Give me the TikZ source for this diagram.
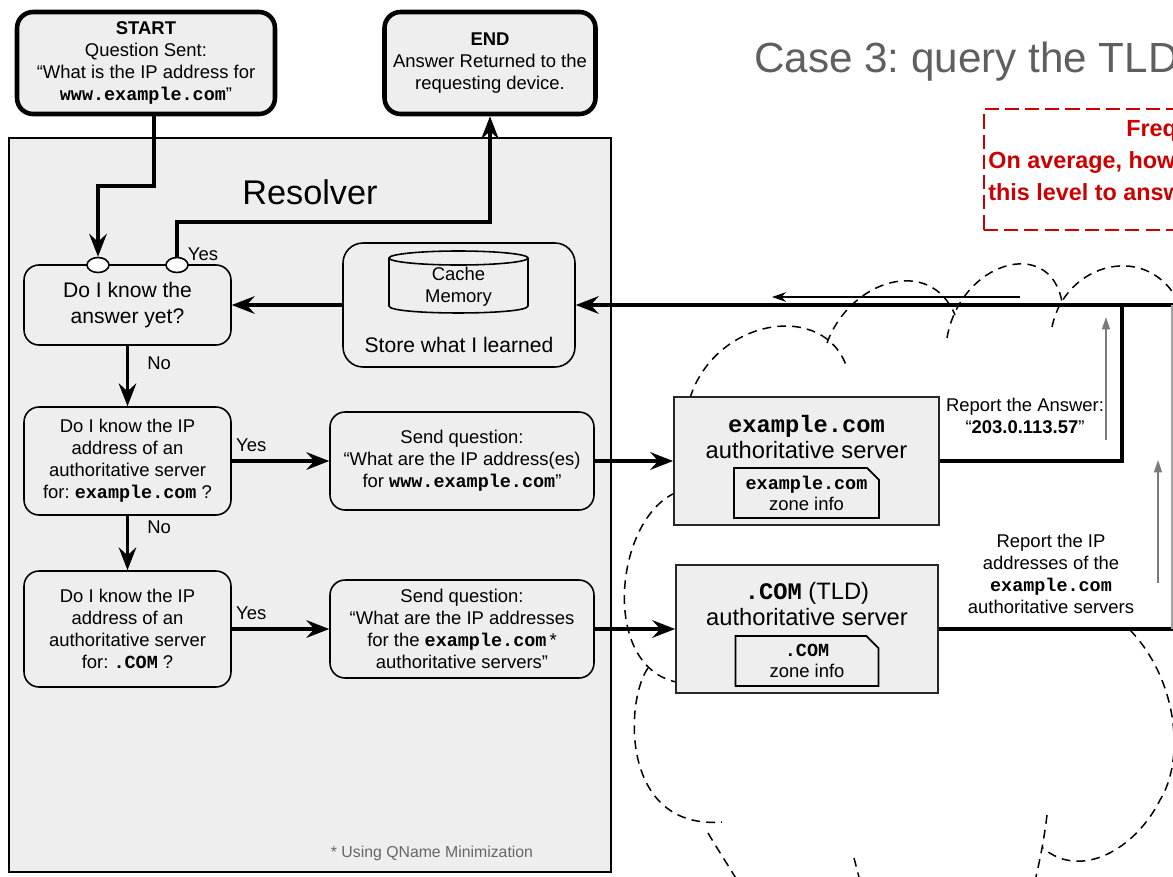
\documentclass[tikz,border=0pt]{standalone}
\usepackage{fontspec}
\setmainfont{Liberation Sans}
\setmonofont{Liberation Mono}
\usepackage{xcolor}
\usepackage{tikz}
\usetikzlibrary{arrows.meta,shapes.geometric,shapes.misc}

\definecolor{panel}{HTML}{EEEEEE}
\definecolor{alertred}{HTML}{CC0000}
\definecolor{titlegray}{HTML}{5F5F5F}
\definecolor{notegray}{HTML}{666666}
\definecolor{hintgray}{HTML}{7A7A7A}
\newcommand{\dom}[1]{\textbf{\texttt{#1}}}
\newcommand{\fs}[2]{\fontsize{#1}{#2}\selectfont}
\frenchspacing

\begin{document}
\begin{tikzpicture}[x=0.02cm,y=-0.02cm,
      every node/.style={font=\fs{10.5}{12.5}},
      term/.style={draw,line width=2.6pt,rounded corners=0.32cm,fill=panel,align=center,minimum height=2.04cm},
      ask/.style={draw,line width=0.9pt,rounded corners=0.3cm,fill=panel,align=center,minimum width=4.14cm},
      query/.style={ask,minimum width=5.28cm,minimum height=1.96cm},
      port/.style={draw,ellipse,fill=white,line width=0.9pt,minimum width=0.44cm,minimum height=0.3cm,inner sep=0pt},
      srv/.style={draw=black!85,line width=1pt,fill=panel,minimum height=2.56cm},
      zone/.style={draw,chamfered rectangle,chamfered rectangle corners=north east,chamfered rectangle xsep=0.12cm,chamfered rectangle ysep=0.12cm,line width=1pt,fill=panel,align=center,minimum width=2.9cm,minimum height=1cm,inner sep=1pt,font=\fs{10.5}{12}},
      flow/.style={line width=2pt,-{Stealth[length=13pt,width=10pt,inset=4.5pt]}},
      wire/.style={line width=2pt},
      hint/.style={hintgray,line width=0.9pt,-{Triangle[length=7pt,width=4.5pt]}},
      puff/.style={dash pattern=on 5pt off 3.5pt,line width=0.85pt},
      alert/.style={anchor=base west,inner sep=0pt,text=alertred,font=\fs{13.3}{16}\bfseries}
]
\useasboundingbox (0,0) rectangle (1173,876);
\clip (0,0) rectangle (1173,876);

\node[draw,line width=1pt,fill=panel,minimum width=12.04cm,minimum height=14.68cm] (resolver) at (310,505) {};
\node[font=\fs{19.5}{22}] (reslabel) at (310,192) {Resolver};

% the cloud
\draw[puff] (690,398) .. controls (715,318) and (825,300) .. (847,368);
\draw[puff] (827,343) .. controls (850,280) and (930,255) .. (955,315);
\draw[puff] (947,338) .. controls (960,262) and (1050,235) .. (1062,302);
\draw[puff] (1052,327) .. controls (1065,262) and (1150,240) .. (1180,305);
\draw[puff] (675,493) .. controls (615,520) and (600,665) .. (676,682);
\draw[puff] (648,668) .. controls (625,700) and (620,830) .. (722,822);
\draw[puff] (708,833) .. controls (718,850) and (728,865) .. (740,885);
\draw[puff] (854,858) -- (861,885);
\draw[puff] (1047,815) .. controls (1044,840) and (1040,860) .. (1034,885);
\draw[puff] (1130,630) .. controls (1178,680) and (1185,760) .. (1160,800) .. controls (1135,850) and (1080,880) .. (1043,848);

\node[term,minimum width=5.16cm] (start) at (146,63) {\textbf{START}\\Question Sent:\\“What is the IP address for\\\dom{www.example.com}”};
\node[term,minimum width=4.22cm] (finish) at (490,63) {\textbf{END}\\Answer Returned to the\\requesting device.};

\node[anchor=base west,inner sep=0pt,text=titlegray,font=\fs{24}{28}] (title) at (754,72) {Case 3: query the TLD};
\node[draw=alertred,line width=1.1pt,dash pattern=on 8pt off 3.5pt,anchor=north west,minimum width=5cm,minimum height=2.42cm] (freqbox) at (983,108) {};
\node[alert] (freq1) at (1126,136) {Freq};
\node[alert] (freq2) at (988,168) {On average, how};
\node[alert] (freq3) at (988,200) {this level to answ};

\node[ask,minimum height=1.6cm,font=\fs{12}{14.5}] (q1) at (127.5,305) {Do I know the\\answer yet?};
\node[ask,minimum height=2.16cm] (q2) at (127.5,461) {Do I know the IP\\address of an\\authoritative server\\for: \dom{example.com} ?};
\node[ask,minimum height=2.32cm] (q3) at (127.5,629) {Do I know the IP\\address of an\\authoritative server\\for: \dom{.COM} ?};
\node[port] (pask) at (98,265) {};
\node[port] (pyes) at (177,265) {};
\node (yestop) at (203,254) {Yes};

\node[ask,rounded corners=0.4cm,minimum width=4.64cm,minimum height=2.48cm] (cache) at (459,305) {};
\draw[line width=0.9pt] (458.5,258) ellipse [x radius=69.5,y radius=7];
\draw[line width=0.9pt] (389,258) -- (389,306) .. controls (389,315.3) and (528,315.3) .. (528,306) -- (528,258);
\node[align=center] (memory) at (458.5,287) {Cache\\Memory};
\node[font=\fs{12}{14.5}] (learned) at (459,345) {Store what I learned};

\node[query] (send1) at (462,461) {Send question:\\“What are the IP address(es)\\for \dom{www.example.com}”};
\node[query] (send2) at (462,629) {Send question:\\“What are the IP addresses\\for the \dom{example.com}\,*\\authoritative servers”};

\node[srv,minimum width=5.3cm] (exsrv) at (806.5,461) {};
\node[align=center,font=\fs{13.5}{15.3}] (exlabel) at (806.5,437) {\dom{example.com}\\authoritative server};
\node[zone] (exzone) at (806.5,493) {\dom{example.com}\\zone info};
\node[srv,minimum width=5.24cm] (tldsrv) at (807,629) {};
\node[align=center,font=\fs{13.5}{15.3}] (tldlabel) at (807,604) {\dom{.COM} (TLD)\\authoritative server};
\node[zone,minimum width=2.86cm] (tldzone) at (807,661) {\dom{.COM}\\zone info};

\node[align=center] (answerlbl) at (1025,416) {Report the Answer:\\“\textbf{203.0.113.57}”};
\node[align=center] (iplbl) at (1051,574) {Report the IP\\addresses of the\\\dom{example.com}\\authoritative servers};
\node[font=\fs{9}{11},text=notegray] (qmin) at (432,853) {* Using QName Minimization};

\coordinate (rightin) at (1190,305);
\coordinate (ansturn) at (1122,305);
\coordinate (echo) at (1020,297);
\coordinate (echoend) at (772,297);
\coordinate (hint1a) at (1106,440);
\coordinate (hint1b) at (1106,317);
\coordinate (hint2a) at (1158,583);
\coordinate (hint2b) at (1158,460);

\draw[flow] (start.south -| 154,0) |- (pask |- 0,186) -- (pask.north);
\draw[flow] (pyes.north) |- (finish.south |- 0,222) -- (finish.south);
\foreach \src/\dst/\where in {q1/q2/0.29,q2/q3/0.21}
      \draw[flow] (\src) -- node[pos=\where,right=7pt] {No} (\dst);
\foreach \src/\dst in {q2/send1,q3/send2}
      \draw[flow] (\src) -- node[pos=0.2,above=1pt] {Yes} (\dst);
\foreach \src/\dst in {send1/exsrv,send2/tldsrv}
      \draw[flow] (\src) -- (\dst);
\draw[flow] (cache) -- (q1);
\draw[flow] (rightin) -- (cache.east);
\draw[wire] (exsrv.east) -| (ansturn);
\draw[wire] (tldsrv.east) -- (tldsrv.east -| rightin);
\draw[line width=0.8pt,-{Stealth[length=8pt,width=5.5pt]}] (echo) -- (echoend);
\draw[hint] (hint1a) -- (hint1b);
\draw[hint] (hint2a) -- (hint2b);
\draw[hintgray!70,line width=0.6pt] (ansturn -| 1172,0) -- (tldsrv.east -| 1172,0);
\end{tikzpicture}
\end{document}
